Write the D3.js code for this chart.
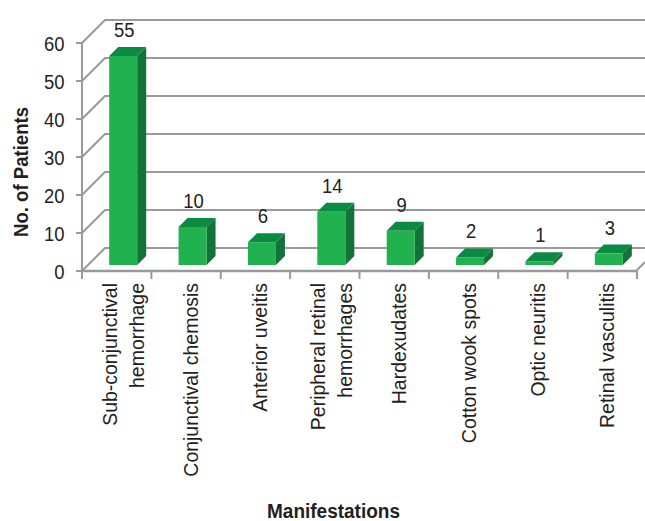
<!DOCTYPE html>
<html><head><meta charset="utf-8">
<script src="https://cdn.jsdelivr.net/npm/d3@7/dist/d3.min.js"></script>
<style>html,body{margin:0;padding:0;background:#fff}svg{display:block}text{font-family:"Liberation Sans",Arial,sans-serif;fill:#231f20}</style>
</head><body><svg id="c" width="645" height="521"></svg>
<script>
const categories=[["Sub-conjunctival","hemorrhage"],["Conjunctival chemosis"],["Anterior uveitis"],["Peripheral retinal","hemorrhages"],["Hardexudates"],["Cotton wook spots"],["Optic neuritis"],["Retinal vasculitis"]];
const patients=[55,10,6,14,9,2,1,3];
const yTicks=[0,10,20,30,40,50,60];
const svg=d3.select("#c");
const x=d3.scaleBand().domain(d3.range(categories.length)).range([82,637]).paddingInner(0).paddingOuter(0);
const y=d3.scaleLinear().domain([0,60]).range([271,43]);
const dx=23,dy=-23,grid="#9a9a9a";
const g=svg.append("g");
// walls
yTicks.forEach(t=>{
  g.append("path").attr("d",`M${x.range()[0]},${y(t)}L${x.range()[0]+dx},${y(t)+dy}L645,${y(t)+dy}`).attr("fill","none").attr("stroke",grid).attr("stroke-width",2);
  g.append("line").attr("x1",76).attr("x2",82).attr("y1",y(t)).attr("y2",y(t)).attr("stroke",grid).attr("stroke-width",2);
  g.append("text").attr("transform",`translate(64.5,${y(t)+8.4}) scale(0.9,1)`).attr("text-anchor","end").attr("font-size",20.5).text(t);
});
g.append("line").attr("x1",82).attr("x2",82).attr("y1",y(60)).attr("y2",y(0)).attr("stroke",grid).attr("stroke-width",2);
g.append("line").attr("x1",82).attr("x2",636).attr("y1",y(0)).attr("y2",y(0)).attr("stroke",grid).attr("stroke-width",2.5);
g.append("line").attr("x1",636).attr("x2",645).attr("y1",y(0)).attr("y2",y(0)-9).attr("stroke",grid).attr("stroke-width",2);
d3.range(categories.length+1).forEach(i=>{
  const px=i<categories.length?x(i):x.range()[1];
  g.append("line").attr("x1",px).attr("x2",px).attr("y1",y(0)).attr("y2",y(0)+8).attr("stroke",grid).attr("stroke-width",2);
});
// bars
const bw=28,d=9,base=-6,off=(x.bandwidth()-bw)/2+6.5;
const bars=g.selectAll("g.bar").data(patients).join("g").attr("class","bar");
bars.append("path").attr("fill","#13713a").attr("d",(v,i)=>{const l=x(i)+off+bw,t=y(v)+base,b=y(0)+base;return `M${l},${t}L${l+d},${t-d}L${l+d},${b-d}L${l},${b}Z`});
bars.append("path").attr("fill","#0b8a42").attr("d",(v,i)=>{const l=x(i)+off,t=y(v)+base;return `M${l},${t}L${l+d},${t-d}L${l+d+bw},${t-d}L${l+bw},${t}Z`});
bars.append("rect").attr("fill","#22b14f").attr("x",(v,i)=>x(i)+off).attr("y",v=>y(v)+base).attr("width",bw).attr("height",v=>y(0)-y(v));
bars.append("text").attr("transform",(v,i)=>`translate(${x(i)+off+bw/2+1},${y(v)+base-19}) scale(0.9,1)`).attr("text-anchor","middle").attr("font-size",20.5).text(v=>v);
// category labels
categories.forEach((lines,i)=>{
  const cx=x(i)+x.bandwidth()/2;
  const t=g.append("text").attr("transform",`translate(${cx},283) rotate(-90) scale(0.95,1)`).attr("text-anchor","end").attr("font-size",20.5);
  const start=lines.length===1?12:0;
  lines.forEach((s,k)=>t.append("tspan").attr("x",0).attr("y",start+k*27).text(s));
});
g.append("text").attr("transform","translate(27.5,172) rotate(-90) scale(0.885,1)").attr("text-anchor","middle").attr("font-size",21).attr("font-weight","bold").text("No. of Patients");
g.append("text").attr("transform","translate(333.5,518) scale(0.927,1)").attr("text-anchor","middle").attr("font-size",20.5).attr("font-weight","bold").text("Manifestations");
</script></body></html>
